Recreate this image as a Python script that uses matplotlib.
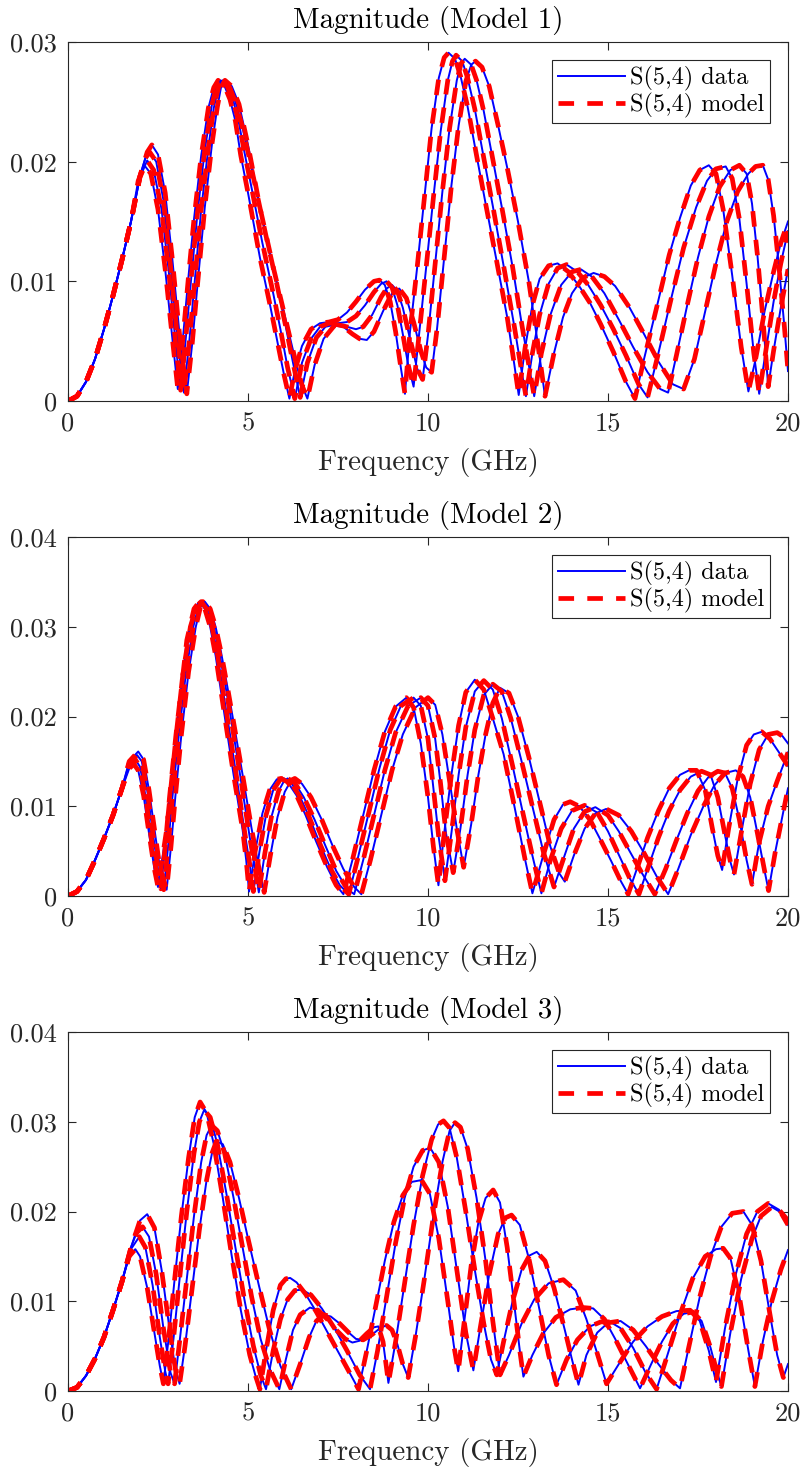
import matplotlib.pyplot as plt
from matplotlib.lines import Line2D

plt.rcParams['font.family'] = 'cmr10'
plt.rcParams['mathtext.fontset'] = 'cm'
plt.rcParams['axes.formatter.use_mathtext'] = True

# |S(5,4)| as (GHz, magnitude) points, four sweeps per model

# Model 1
m1_rise = [(0, 0), (0.25, 0.0004), (0.5, 0.0016), (0.75, 0.0035), (1.0, 0.0060),
           (1.25, 0.0088), (1.5, 0.0118), (1.75, 0.0150)]
m1_a = [(1.95, 0.0184), (2.12, 0.0197), (2.3, 0.0190), (2.5, 0.0160), (2.7, 0.0110), (2.9, 0.0052),
        (3.05, 0.0010), (3.2, 0.0055), (3.35, 0.0105), (3.5, 0.0152), (3.7, 0.0205), (3.9, 0.0245),
        (4.05, 0.0262), (4.17, 0.0268), (4.35, 0.0263), (4.5, 0.0252), (4.65, 0.0234), (4.8, 0.0205),
        (5.0, 0.0174), (5.33, 0.0120), (5.6, 0.0082), (5.8, 0.0052), (6.0, 0.0022), (6.15, 0.0002),
        (6.3, 0.0025), (6.5, 0.0046), (6.75, 0.0060), (7.0, 0.0065), (7.25, 0.0066), (7.5, 0.0068),
        (7.75, 0.0074), (8.0, 0.0083), (8.25, 0.0093), (8.5, 0.0100), (8.65, 0.0101), (8.8, 0.0097),
        (8.95, 0.0083), (9.1, 0.0058), (9.25, 0.0027), (9.36, 0.0006), (9.5, 0.0058), (9.7, 0.0112),
        (9.9, 0.0170), (10.1, 0.0228), (10.3, 0.0270), (10.45, 0.0287), (10.57, 0.0291), (10.75, 0.0286),
        (10.9, 0.0272), (11.1, 0.0246), (11.35, 0.0205), (11.6, 0.0165), (11.9, 0.0118), (12.2, 0.0070),
        (12.4, 0.0030), (12.52, 0.0005), (12.7, 0.0045), (12.9, 0.0080), (13.1, 0.0102), (13.35, 0.0113),
        (13.6, 0.0115), (13.9, 0.0108), (14.2, 0.0096), (14.5, 0.0082), (14.8, 0.0064), (15.15, 0.0041),
        (15.5, 0.0016), (15.75, 0.0002), (16.0, 0.0035), (16.35, 0.0078), (16.7, 0.0122), (17.0, 0.0153),
        (17.3, 0.0180), (17.55, 0.0193), (17.8, 0.0197), (18.0, 0.0190), (18.2, 0.0160), (18.45, 0.0105),
        (18.7, 0.0045), (18.9, 0.0008), (19.1, 0.0035), (19.35, 0.0075), (19.6, 0.0108), (19.8, 0.0132),
        (20.0, 0.0150)]
m1_b = [(2.0, 0.0187), (2.2, 0.0201), (2.38, 0.0193), (2.6, 0.0160), (2.8, 0.0108), (3.0, 0.0045),
        (3.13, 0.0009), (3.28, 0.0055), (3.43, 0.0105), (3.6, 0.0158), (3.8, 0.0210), (4.0, 0.0248),
        (4.12, 0.0262), (4.24, 0.0268), (4.42, 0.0263), (4.6, 0.0250), (4.75, 0.0232), (4.9, 0.0208),
        (5.1, 0.0178), (5.4, 0.0132), (5.7, 0.0090), (5.9, 0.0060), (6.1, 0.0028), (6.3, 0.0002),
        (6.5, 0.0032), (6.75, 0.0052), (7.0, 0.0062), (7.25, 0.0065), (7.5, 0.0065), (7.75, 0.0066),
        (8.0, 0.0071), (8.25, 0.0080), (8.5, 0.0091), (8.7, 0.0098), (8.85, 0.0100), (9.0, 0.0095),
        (9.15, 0.0080), (9.3, 0.0056), (9.45, 0.0030), (9.6, 0.0012), (9.75, 0.0055), (9.95, 0.0112),
        (10.15, 0.0170), (10.35, 0.0225), (10.55, 0.0268), (10.68, 0.0284), (10.78, 0.0289), (10.95, 0.0284),
        (11.1, 0.0270), (11.3, 0.0244), (11.55, 0.0203), (11.8, 0.0163), (12.1, 0.0113), (12.4, 0.0062),
        (12.6, 0.0025), (12.72, 0.0004), (12.9, 0.0040), (13.1, 0.0072), (13.35, 0.0098), (13.6, 0.0111),
        (13.85, 0.0114), (14.15, 0.0108), (14.45, 0.0097), (14.8, 0.0080), (15.15, 0.0060), (15.5, 0.0038),
        (15.85, 0.0014), (16.1, 0.0003), (16.4, 0.0040), (16.75, 0.0085), (17.1, 0.0128), (17.45, 0.0162),
        (17.75, 0.0184), (18.0, 0.0194), (18.27, 0.0196), (18.45, 0.0186), (18.65, 0.0152), (18.85, 0.0098),
        (19.05, 0.0040), (19.2, 0.0006), (19.4, 0.0045), (19.6, 0.0083), (19.8, 0.0115), (20.0, 0.0142)]
m1_c = [(2.0, 0.0188), (2.15, 0.0203), (2.27, 0.0208), (2.45, 0.0200), (2.65, 0.0168), (2.85, 0.0112),
        (3.05, 0.0050), (3.22, 0.0007), (3.37, 0.0050), (3.52, 0.0100), (3.7, 0.0160), (3.9, 0.0212),
        (4.05, 0.0245), (4.18, 0.0262), (4.3, 0.0268), (4.48, 0.0263), (4.65, 0.0250), (4.82, 0.0232),
        (5.0, 0.0208), (5.2, 0.0180), (5.5, 0.0138), (5.8, 0.0098), (6.05, 0.0062), (6.25, 0.0032),
        (6.45, 0.0003), (6.65, 0.0032), (6.9, 0.0053), (7.15, 0.0062), (7.45, 0.0064), (7.75, 0.0062),
        (8.0, 0.0060), (8.2, 0.0062), (8.45, 0.0072), (8.7, 0.0087), (8.85, 0.0094), (9.0, 0.0097),
        (9.15, 0.0092), (9.3, 0.0078), (9.5, 0.0052), (9.7, 0.0027), (9.85, 0.0018), (10.0, 0.0055),
        (10.2, 0.0115), (10.4, 0.0175), (10.6, 0.0228), (10.8, 0.0268), (10.92, 0.0282), (11.02, 0.0286),
        (11.2, 0.0281), (11.35, 0.0268), (11.55, 0.0242), (11.8, 0.0202), (12.05, 0.0162), (12.35, 0.0112),
        (12.6, 0.0065), (12.8, 0.0030), (12.95, 0.0004), (13.15, 0.0040), (13.4, 0.0072), (13.7, 0.0097),
        (14.0, 0.0108), (14.25, 0.0110), (14.55, 0.0104), (14.9, 0.0090), (15.3, 0.0068), (15.7, 0.0045),
        (16.1, 0.0024), (16.45, 0.0010), (16.67, 0.0007), (16.9, 0.0038), (17.2, 0.0080), (17.5, 0.0120),
        (17.8, 0.0154), (18.1, 0.0179), (18.4, 0.0193), (18.65, 0.0197), (18.85, 0.0190), (19.0, 0.0165),
        (19.15, 0.0122), (19.3, 0.0070), (19.45, 0.0012), (19.6, 0.0042), (19.8, 0.0078), (20.0, 0.0110)]
m1_d = [(2.0, 0.0188), (2.2, 0.0208), (2.33, 0.0214), (2.5, 0.0206), (2.7, 0.0174), (2.9, 0.0118),
        (3.1, 0.0055), (3.3, 0.0006), (3.45, 0.0048), (3.6, 0.0098), (3.8, 0.0162), (4.0, 0.0215),
        (4.15, 0.0246), (4.25, 0.0262), (4.36, 0.0268), (4.55, 0.0263), (4.75, 0.0248), (5.0, 0.0214),
        (5.33, 0.0162), (5.7, 0.0112), (6.0, 0.0074), (6.3, 0.0036), (6.5, 0.0013), (6.65, 0.0002),
        (6.85, 0.0030), (7.1, 0.0052), (7.4, 0.0063), (7.65, 0.0062), (7.9, 0.0056), (8.1, 0.0052),
        (8.3, 0.0051), (8.5, 0.0058), (8.75, 0.0075), (9.0, 0.0090), (9.2, 0.0094), (9.4, 0.0086),
        (9.6, 0.0066), (9.8, 0.0042), (9.95, 0.0028), (10.1, 0.0024), (10.25, 0.0060), (10.45, 0.0120),
        (10.65, 0.0180), (10.85, 0.0230), (11.05, 0.0267), (11.2, 0.0281), (11.32, 0.0284), (11.5, 0.0279),
        (11.7, 0.0263), (11.95, 0.0230), (12.2, 0.0195), (12.5, 0.0150), (12.8, 0.0100), (13.05, 0.0048),
        (13.25, 0.0004), (13.5, 0.0040), (13.75, 0.0070), (14.0, 0.0090), (14.3, 0.0103), (14.6, 0.0107),
        (14.9, 0.0104), (15.2, 0.0096), (15.6, 0.0078), (16.0, 0.0056), (16.4, 0.0033), (16.8, 0.0014),
        (17.1, 0.0010), (17.4, 0.0035), (17.7, 0.0075), (18.0, 0.0115), (18.3, 0.0150), (18.6, 0.0175),
        (18.9, 0.0190), (19.1, 0.0196), (19.3, 0.0197), (19.45, 0.0185), (19.6, 0.0155), (19.75, 0.0112),
        (19.9, 0.0062), (20.0, 0.0025)]

# Model 2
m2_rise = [(0, 0), (0.25, 0.0005), (0.5, 0.0018), (0.75, 0.0040), (1.0, 0.0064), (1.25, 0.0090),
           (1.5, 0.0120)]
m2_a = [(1.7, 0.0142), (1.83, 0.0147), (1.95, 0.0140), (2.1, 0.0112), (2.25, 0.0070), (2.4, 0.0030),
        (2.5, 0.0010), (2.74, 0.0074), (3.02, 0.0185), (3.3, 0.0285), (3.5, 0.0320), (3.65, 0.0328),
        (3.8, 0.0320), (3.95, 0.0300), (4.1, 0.0268), (4.25, 0.0228), (4.41, 0.0185), (4.6, 0.0135),
        (4.85, 0.0074), (4.95, 0.0040), (5.03, 0.0005), (5.2, 0.0050), (5.4, 0.0092), (5.6, 0.0118),
        (5.8, 0.0130), (5.92, 0.0131), (6.1, 0.0127), (6.35, 0.0112), (6.6, 0.0090), (6.9, 0.0060),
        (7.2, 0.0032), (7.45, 0.0012), (7.65, 0.0002), (7.9, 0.0040), (8.2, 0.0090), (8.5, 0.0140),
        (8.8, 0.0183), (9.1, 0.0211), (9.4, 0.0221), (9.6, 0.0210), (9.8, 0.0170), (10.0, 0.0110),
        (10.15, 0.0055), (10.29, 0.0012), (10.45, 0.0070), (10.65, 0.0135), (10.85, 0.0190), (11.05, 0.0227),
        (11.3, 0.0241), (11.55, 0.0230), (11.8, 0.0198), (12.1, 0.0158), (12.4, 0.0100), (12.7, 0.0040),
        (12.9, 0.0003), (13.2, 0.0045), (13.5, 0.0085), (13.75, 0.0102), (13.95, 0.0105), (14.2, 0.0100),
        (14.5, 0.0085), (14.8, 0.0062), (15.1, 0.0038), (15.35, 0.0017), (15.56, 0.0002), (15.8, 0.0030),
        (16.1, 0.0065), (16.4, 0.0095), (16.7, 0.0120), (17.0, 0.0135), (17.25, 0.0140), (17.46, 0.0140),
        (17.7, 0.0118), (17.9, 0.0075), (18.05, 0.0045), (18.17, 0.0029), (18.35, 0.0075), (18.6, 0.0130),
        (18.85, 0.0168), (19.05, 0.0180), (19.27, 0.0183), (19.5, 0.0175), (19.75, 0.0160), (20.0, 0.0145)]
m2_b = [(1.7, 0.0145), (1.87, 0.0152), (2.0, 0.0144), (2.15, 0.0112), (2.3, 0.0068), (2.45, 0.0028),
        (2.58, 0.0008), (2.7, 0.0055), (2.82, 0.0110), (3.0, 0.0180), (3.2, 0.0250), (3.4, 0.0300),
        (3.57, 0.0323), (3.7, 0.0328), (3.85, 0.0320), (4.0, 0.0300), (4.15, 0.0270), (4.3, 0.0230),
        (4.5, 0.0180), (4.7, 0.0128), (4.92, 0.0068), (5.05, 0.0035), (5.15, 0.0005), (5.32, 0.0050),
        (5.5, 0.0090), (5.7, 0.0118), (5.9, 0.0130), (6.0, 0.0131), (6.2, 0.0126), (6.45, 0.0110),
        (6.7, 0.0088), (7.0, 0.0058), (7.3, 0.0030), (7.55, 0.0012), (7.8, 0.0002), (8.05, 0.0042),
        (8.35, 0.0092), (8.65, 0.0142), (8.95, 0.0185), (9.25, 0.0212), (9.6, 0.0221), (9.8, 0.0212),
        (10.0, 0.0175), (10.15, 0.0120), (10.3, 0.0065), (10.47, 0.0017), (10.65, 0.0070), (10.85, 0.0135),
        (11.05, 0.0188), (11.3, 0.0228), (11.55, 0.0240), (11.8, 0.0230), (12.05, 0.0198), (12.35, 0.0145),
        (12.65, 0.0090), (12.9, 0.0045), (13.15, 0.0003), (13.4, 0.0040), (13.7, 0.0075), (14.0, 0.0095),
        (14.35, 0.0101), (14.7, 0.0093), (15.0, 0.0072), (15.3, 0.0046), (15.6, 0.0020), (15.86, 0.0002),
        (16.1, 0.0030), (16.4, 0.0065), (16.7, 0.0095), (17.0, 0.0118), (17.3, 0.0133), (17.6, 0.0139),
        (17.85, 0.0135), (18.05, 0.0110), (18.25, 0.0068), (18.4, 0.0038), (18.5, 0.0024), (18.7, 0.0070),
        (18.95, 0.0125), (19.2, 0.0163), (19.45, 0.0180), (19.7, 0.0182), (19.85, 0.0178), (20.0, 0.0170)]
m2_c = [(1.7, 0.0148), (1.92, 0.0157), (2.05, 0.0150), (2.2, 0.0118), (2.35, 0.0072), (2.5, 0.0030),
        (2.66, 0.0007), (2.78, 0.0055), (2.9, 0.0110), (3.08, 0.0180), (3.28, 0.0250), (3.48, 0.0300),
        (3.62, 0.0322), (3.75, 0.0328), (3.9, 0.0320), (4.05, 0.0300), (4.2, 0.0272), (4.4, 0.0228),
        (4.6, 0.0180), (4.8, 0.0130), (5.05, 0.0065), (5.2, 0.0030), (5.3, 0.0004), (5.47, 0.0048),
        (5.65, 0.0088), (5.85, 0.0117), (6.0, 0.0128), (6.1, 0.0131), (6.3, 0.0126), (6.55, 0.0110),
        (6.85, 0.0085), (7.15, 0.0056), (7.45, 0.0028), (7.75, 0.0008), (7.95, 0.0002), (8.2, 0.0040),
        (8.5, 0.0090), (8.8, 0.0140), (9.1, 0.0182), (9.45, 0.0212), (9.8, 0.0221), (10.0, 0.0212),
        (10.2, 0.0175), (10.35, 0.0125), (10.5, 0.0070), (10.7, 0.0026), (10.9, 0.0075), (11.1, 0.0135),
        (11.3, 0.0185), (11.55, 0.0224), (11.8, 0.0236), (12.05, 0.0228), (12.3, 0.0198), (12.6, 0.0150),
        (12.9, 0.0100), (13.2, 0.0050), (13.5, 0.0010), (13.75, 0.0040), (14.05, 0.0075), (14.35, 0.0094),
        (14.65, 0.0099), (15.0, 0.0090), (15.3, 0.0072), (15.6, 0.0050), (15.95, 0.0025), (16.3, 0.0002),
        (16.6, 0.0030), (16.9, 0.0062), (17.2, 0.0092), (17.5, 0.0117), (17.8, 0.0133), (18.05, 0.0139),
        (18.25, 0.0137), (18.45, 0.0120), (18.65, 0.0085), (18.85, 0.0040), (19.0, 0.0013), (19.2, 0.0060),
        (19.45, 0.0100), (19.7, 0.0128), (20.0, 0.0160)]
m2_d = [(1.7, 0.0150), (1.95, 0.0161), (2.1, 0.0152), (2.25, 0.0118), (2.4, 0.0075), (2.55, 0.0032),
        (2.74, 0.0007), (2.86, 0.0055), (2.98, 0.0110), (3.15, 0.0180), (3.35, 0.0250), (3.55, 0.0300),
        (3.68, 0.0322), (3.8, 0.0328), (3.95, 0.0320), (4.1, 0.0300), (4.25, 0.0272), (4.45, 0.0228),
        (4.65, 0.0182), (4.85, 0.0135), (5.1, 0.0075), (5.3, 0.0032), (5.45, 0.0004), (5.62, 0.0045),
        (5.82, 0.0088), (6.02, 0.0116), (6.2, 0.0129), (6.3, 0.0131), (6.5, 0.0125), (6.75, 0.0110),
        (7.05, 0.0085), (7.35, 0.0056), (7.65, 0.0030), (7.95, 0.0010), (8.15, 0.0002), (8.4, 0.0040),
        (8.7, 0.0090), (9.0, 0.0140), (9.3, 0.0180), (9.65, 0.0210), (10.0, 0.0221), (10.2, 0.0213),
        (10.4, 0.0180), (10.6, 0.0128), (10.8, 0.0075), (10.99, 0.0032), (11.2, 0.0080), (11.4, 0.0135),
        (11.6, 0.0180), (11.8, 0.0215), (12.0, 0.0232), (12.25, 0.0226), (12.5, 0.0200), (12.8, 0.0155),
        (13.1, 0.0105), (13.4, 0.0055), (13.65, 0.0025), (13.8, 0.0016), (14.05, 0.0045), (14.35, 0.0075),
        (14.65, 0.0092), (14.95, 0.0097), (15.3, 0.0090), (15.65, 0.0072), (16.0, 0.0048), (16.35, 0.0022),
        (16.67, 0.0002), (16.95, 0.0030), (17.3, 0.0068), (17.65, 0.0100), (17.95, 0.0123), (18.25, 0.0137),
        (18.55, 0.0140), (18.75, 0.0133), (18.95, 0.0110), (19.15, 0.0070), (19.35, 0.0028), (19.46, 0.0006),
        (19.65, 0.0050), (19.85, 0.0090), (20.0, 0.0120)]

# Model 3
m3_rise = [(0, 0), (0.25, 0.0004), (0.5, 0.0017), (0.75, 0.0036), (1.0, 0.0060), (1.25, 0.0090),
           (1.5, 0.0122)]
m3_a = [(1.7, 0.0150), (1.87, 0.0158), (2.0, 0.0150), (2.2, 0.0115), (2.4, 0.0065), (2.55, 0.0028),
        (2.65, 0.0008), (2.8, 0.0060), (2.95, 0.0120), (3.15, 0.0195), (3.35, 0.0260), (3.52, 0.0305),
        (3.67, 0.0322), (3.85, 0.0310), (4.05, 0.0275), (4.3, 0.0215), (4.55, 0.0150), (4.8, 0.0090),
        (5.05, 0.0040), (5.2, 0.0018), (5.33, 0.0002), (5.5, 0.0045), (5.7, 0.0090), (5.9, 0.0118),
        (6.05, 0.0125), (6.17, 0.0126), (6.35, 0.0121), (6.6, 0.0108), (6.9, 0.0088), (7.2, 0.0066),
        (7.5, 0.0044), (7.8, 0.0022), (8.07, 0.0002), (8.3, 0.0045), (8.55, 0.0095), (8.8, 0.0145),
        (9.05, 0.0188), (9.3, 0.0218), (9.55, 0.0233), (9.82, 0.0235), (10.05, 0.0220), (10.3, 0.0170),
        (10.55, 0.0100), (10.72, 0.0050), (10.84, 0.0022), (11.0, 0.0075), (11.2, 0.0140), (11.4, 0.0188),
        (11.6, 0.0215), (11.81, 0.0224), (12.0, 0.0210), (12.2, 0.0160), (12.4, 0.0095), (12.55, 0.0045),
        (12.65, 0.0016), (12.9, 0.0040), (13.2, 0.0064), (13.55, 0.0082), (13.95, 0.0091), (14.3, 0.0093),
        (14.59, 0.0092), (14.9, 0.0080), (15.2, 0.0058), (15.55, 0.0030), (15.89, 0.0003), (16.2, 0.0030),
        (16.5, 0.0055), (16.8, 0.0075), (17.1, 0.0086), (17.35, 0.0088), (17.6, 0.0078), (17.85, 0.0048),
        (18.0, 0.0025), (18.15, 0.0005), (18.4, 0.0065), (18.7, 0.0125), (19.0, 0.0170), (19.25, 0.0195),
        (19.55, 0.0205), (19.8, 0.0199), (20.0, 0.0185)]
m3_b = [(1.75, 0.0158), (1.98, 0.0172), (2.15, 0.0160), (2.35, 0.0118), (2.55, 0.0060), (2.7, 0.0022),
        (2.78, 0.0008), (2.93, 0.0058), (3.1, 0.0125), (3.3, 0.0200), (3.5, 0.0265), (3.65, 0.0300),
        (3.78, 0.0313), (3.95, 0.0305), (4.15, 0.0275), (4.4, 0.0220), (4.65, 0.0160), (4.9, 0.0102),
        (5.15, 0.0050), (5.35, 0.0018), (5.5, 0.0002), (5.7, 0.0045), (5.9, 0.0080), (6.1, 0.0102),
        (6.3, 0.0112), (6.5, 0.0113), (6.75, 0.0107), (7.05, 0.0092), (7.4, 0.0070), (7.75, 0.0045),
        (8.1, 0.0018), (8.39, 0.0002), (8.6, 0.0045), (8.85, 0.0105), (9.1, 0.0165), (9.35, 0.0215),
        (9.6, 0.0250), (9.85, 0.0268), (10.06, 0.0271), (10.3, 0.0255), (10.55, 0.0205), (10.8, 0.0135),
        (11.05, 0.0065), (11.26, 0.0023), (11.45, 0.0070), (11.7, 0.0130), (11.95, 0.0175), (12.15, 0.0193),
        (12.32, 0.0196), (12.55, 0.0185), (12.8, 0.0148), (13.1, 0.0090), (13.35, 0.0040), (13.57, 0.0007),
        (13.85, 0.0035), (14.15, 0.0057), (14.5, 0.0072), (14.8, 0.0077), (15.06, 0.0077), (15.35, 0.0070),
        (15.7, 0.0048), (16.05, 0.0020), (16.35, 0.0002), (16.65, 0.0040), (17.0, 0.0085), (17.35, 0.0125),
        (17.7, 0.0150), (18.0, 0.0158), (18.2, 0.0159), (18.4, 0.0148), (18.65, 0.0105), (18.9, 0.0045),
        (19.08, 0.0005), (19.3, 0.0055), (19.55, 0.0100), (19.8, 0.0135), (20.0, 0.0157)]
m3_c = [(1.75, 0.0160), (1.9, 0.0176), (2.07, 0.0183), (2.25, 0.0172), (2.45, 0.0130), (2.65, 0.0070),
        (2.85, 0.0020), (2.96, 0.0008), (3.1, 0.0055), (3.3, 0.0125), (3.5, 0.0195), (3.7, 0.0255),
        (3.85, 0.0285), (3.99, 0.0296), (4.15, 0.0290), (4.35, 0.0265), (4.6, 0.0215), (4.85, 0.0160),
        (5.1, 0.0105), (5.35, 0.0058), (5.6, 0.0025), (5.87, 0.0002), (6.05, 0.0035), (6.25, 0.0068),
        (6.45, 0.0085), (6.72, 0.0093), (6.95, 0.0090), (7.2, 0.0080), (7.45, 0.0068), (7.7, 0.0058),
        (7.9, 0.0054), (8.1, 0.0056), (8.3, 0.0064), (8.5, 0.0071), (8.62, 0.0072), (8.75, 0.0055),
        (8.85, 0.0025), (8.9, 0.0009), (9.1, 0.0055), (9.35, 0.0120), (9.6, 0.0185), (9.85, 0.0240),
        (10.1, 0.0280), (10.28, 0.0297), (10.43, 0.0301), (10.6, 0.0293), (10.8, 0.0260), (11.05, 0.0200),
        (11.3, 0.0135), (11.55, 0.0075), (11.75, 0.0035), (11.91, 0.0018), (12.1, 0.0055), (12.35, 0.0100),
        (12.6, 0.0135), (12.82, 0.0151), (13.02, 0.0155), (13.25, 0.0145), (13.5, 0.0115), (13.8, 0.0068),
        (14.0, 0.0035), (14.18, 0.0007), (14.4, 0.0040), (14.7, 0.0065), (15.0, 0.0076), (15.35, 0.0078),
        (15.7, 0.0068), (16.05, 0.0050), (16.4, 0.0030), (16.75, 0.0012), (17.0, 0.0003), (17.25, 0.0050),
        (17.55, 0.0105), (17.85, 0.0150), (18.15, 0.0183), (18.45, 0.0198), (18.76, 0.0200), (19.0, 0.0185),
        (19.25, 0.0145), (19.5, 0.0085), (19.7, 0.0040), (19.87, 0.0015), (20.0, 0.0030)]
m3_d = [(1.75, 0.0160), (2.0, 0.0190), (2.2, 0.0197), (2.4, 0.0182), (2.6, 0.0135), (2.8, 0.0075),
        (2.98, 0.0025), (3.1, 0.0008), (3.25, 0.0050), (3.45, 0.0115), (3.65, 0.0180), (3.85, 0.0235),
        (4.0, 0.0265), (4.12, 0.0278), (4.3, 0.0275), (4.5, 0.0255), (4.75, 0.0215), (5.0, 0.0170),
        (5.3, 0.0118), (5.6, 0.0068), (5.9, 0.0028), (6.2, 0.0002), (6.45, 0.0030), (6.7, 0.0060),
        (6.9, 0.0078), (7.1, 0.0085), (7.3, 0.0083), (7.55, 0.0075), (7.8, 0.0065), (8.0, 0.0058),
        (8.2, 0.0057), (8.45, 0.0063), (8.7, 0.0071), (8.85, 0.0073), (9.0, 0.0068), (9.15, 0.0052),
        (9.3, 0.0030), (9.45, 0.0015), (9.65, 0.0060), (9.9, 0.0125), (10.15, 0.0195), (10.4, 0.0255),
        (10.6, 0.0290), (10.75, 0.0299), (10.9, 0.0294), (11.1, 0.0270), (11.35, 0.0215), (11.6, 0.0145),
        (11.8, 0.0078), (12.0, 0.0018), (12.25, 0.0040), (12.6, 0.0075), (12.95, 0.0102), (13.35, 0.0120),
        (13.76, 0.0124), (14.1, 0.0112), (14.4, 0.0080), (14.7, 0.0042), (14.96, 0.0008), (15.3, 0.0030),
        (15.7, 0.0055), (16.1, 0.0072), (16.5, 0.0083), (16.9, 0.0089), (17.28, 0.0090), (17.55, 0.0078),
        (17.8, 0.0045), (18.0, 0.0010), (18.25, 0.0070), (18.55, 0.0130), (18.85, 0.0175), (19.15, 0.0200),
        (19.45, 0.0209), (19.75, 0.0202), (20.0, 0.0190)]

panels = [
    ("Magnitude (Model 1)", m1_rise, [m1_a, m1_b, m1_c, m1_d], [0, 0.01, 0.02, 0.03], ["0", "0.01", "0.02", "0.03"]),
    ("Magnitude (Model 2)", m2_rise, [m2_a, m2_b, m2_c, m2_d], [0, 0.01, 0.02, 0.03, 0.04], ["0", "0.01", "0.02", "0.03", "0.04"]),
    ("Magnitude (Model 3)", m3_rise, [m3_a, m3_b, m3_c, m3_d], [0, 0.01, 0.02, 0.03, 0.04], ["0", "0.01", "0.02", "0.03", "0.04"]),
]
freq_ticks = [0, 5, 10, 15, 20]

W, H = 803, 1472
fig = plt.figure(figsize=(W / 100, H / 100), dpi=100)
tops = [42, 537, 1032]
tick_fs = 19
label_fs = 20.9
legend_fs = 17.4
dash = (0, (3.3, 2.8))

for (title, rise, sweeps, yt, ytl), top in zip(panels, tops):
    ax = fig.add_axes([68 / W, 1 - (top + 359) / H, 720 / W, 359 / H])
    for s in sweeps:
        pts = rise + s
        ax.plot([p[0] for p in pts], [p[1] for p in pts], color='b', lw=1.4)
    for s in sweeps:
        pts = rise + s
        ax.plot([p[0] for p in pts], [p[1] for p in pts], color='r', lw=3.4, ls=dash)
    ax.set_xlim(0, 20)
    ax.set_ylim(yt[0], yt[-1])
    ax.set_xticks(freq_ticks, [str(t) for t in freq_ticks])
    ax.set_yticks(yt, ytl)
    ax.tick_params(direction='in', length=6, width=0.8, top=True, right=True,
                   labelsize=tick_fs, colors='0.15', pad=8)
    for sp in ax.spines.values():
        sp.set_color('0.15')
        sp.set_linewidth(0.8)
    ax.set_title(title, fontsize=label_fs, color='k', pad=10)
    ax.set_xlabel("Frequency (GHz)", fontsize=label_fs, color='0.15', labelpad=8.5)
    handles = [Line2D([], [], color='b', lw=1.4),
               Line2D([], [], color='r', lw=3.4, ls=dash)]
    leg = ax.legend(handles, ["S(5,4) data", "S(5,4) model"], loc='upper right',
                    fontsize=legend_fs, frameon=True, fancybox=False, framealpha=1,
                    edgecolor='0.15', handlelength=2.8, handletextpad=0.2,
                    borderpad=0.22, labelspacing=0.08, borderaxespad=0.75)
    leg.get_frame().set_linewidth(0.8)

fig.savefig("out.png", dpi=100)
